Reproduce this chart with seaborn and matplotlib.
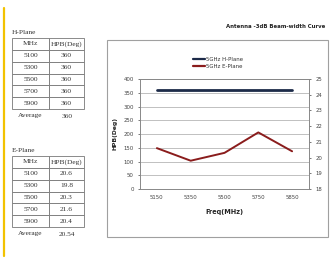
import matplotlib
matplotlib.use("Agg")
import matplotlib.pyplot as plt
import seaborn as sns
import pandas as pd
from matplotlib.patches import Rectangle
from matplotlib.lines import Line2D

sns.set_style("white")
plt.rcParams["font.family"] = ["DejaVu Sans"]

# chart data
freqs = ["5150", "5350", "5500", "5750", "5850"]
h_plane = [360, 360, 360, 360, 360]
e_plane = [20.6, 19.8, 20.3, 21.6, 20.4]

# table data
tbl_mhz = ["5100", "5300", "5500", "5700", "5900"]
tbl_h = ["360", "360", "360", "360", "360"]
tbl_e = ["20.6", "19.8", "20.3", "21.6", "20.4"]
h_avg = "360"
e_avg = "20.54"

W, H = 331, 259
fig = plt.figure(figsize=(W / 100, H / 100), dpi=100)
fig.patch.set_facecolor("white")


def fx(x):
    return x / W


def fy(y):
    return 1 - y / H


# yellow margin line
fig.add_artist(Line2D([fx(4), fx(4)], [fy(8), fy(256)], color="#f2c200", lw=1.6))

# chart frame
fig.add_artist(Rectangle((fx(107), fy(237)), fx(328) - fx(107), fy(40) - fy(237),
                         fill=False, edgecolor="#a0a0a0", lw=0.8))
fig.text(fx(325), fy(27), "Antenna -3dB Beam-width Curve", ha="right", va="center",
         fontsize=3.9, fontweight="bold", color="#222222")

df = pd.DataFrame({"freq": freqs, "h": h_plane, "e": e_plane})

ax = fig.add_axes([fx(140), fy(189), fx(309) - fx(140), fy(79) - fy(189)])
sns.lineplot(data=df, x="freq", y="h", ax=ax, color="#1c2a48", lw=2.0,
             label="5GHz H-Plane", legend=False)
ax.set_ylim(0, 400)
ax.set_yticks(range(0, 401, 50))
ax.set_xlim(-0.5, 4.5)
ax.grid(axis="y", color="#b5b5b5", lw=0.6)
ax.set_axisbelow(True)
ax.set_xlabel("Freq(MHz)", fontsize=4.7, fontweight="bold", labelpad=6)
ax.set_ylabel("HPB(Deg)", fontsize=4.4, fontweight="bold", labelpad=4)

ax2 = ax.twinx()
sns.lineplot(data=df, x="freq", y="e", ax=ax2, color="#8a1c1c", lw=1.4,
             label="5GHz E-Plane", legend=False)
ax2.set_ylim(18, 25)
ax2.set_yticks(range(18, 26))
ax2.set_ylabel("")

for a in (ax, ax2):
    a.tick_params(labelsize=3.9, length=1.5, width=0.5, pad=3, colors="#444444")
    for s in a.spines.values():
        s.set_color("#888888")
        s.set_linewidth(0.6)

fig.legend(handles=[Line2D([], [], color="#1c2a48", lw=1.6),
                    Line2D([], [], color="#8a1c1c", lw=1.6)],
           labels=["5GHz H-Plane", "5GHz E-Plane"],
           loc="center", bbox_to_anchor=(fx(218), fy(63)), frameon=False,
           fontsize=3.9, handlelength=2.2, handletextpad=0.1, labelspacing=0.45,
           labelcolor="#333333")


# tables on the left
def draw_table(top, bottom, title, vals, avg):
    fig.text(fx(12), fy(top - 5), title, fontsize=5.3, family="Liberation Serif",
             ha="left", va="center", color="#333333")
    tax = fig.add_axes([fx(12), fy(bottom), fx(84) - fx(12), fy(top) - fy(bottom)])
    tax.axis("off")
    rows = [["MHz", "HPB(Deg)"]] + [[m, v] for m, v in zip(tbl_mhz, vals)]
    t = tax.table(cellText=rows, bbox=[0, 0, 1, 1], cellLoc="center",
                  colWidths=[37, 35])
    t.auto_set_font_size(False)
    for cell in t.get_celld().values():
        cell.set_fontsize(5.3)
        cell.set_edgecolor("#777777")
        cell.set_linewidth(0.6)
        cell.get_text().set_family("Liberation Serif")
        cell.get_text().set_color("#333333")
    fig.text(fx(30), fy(bottom + 7), "Average", fontsize=5.3, family="Liberation Serif",
             ha="center", va="center", color="#333333")
    fig.text(fx(67), fy(bottom + 7), avg, fontsize=5.3, family="Liberation Serif",
             ha="center", va="center", color="#333333")


draw_table(38, 109, "H-Plane", tbl_h, h_avg)
draw_table(156, 227, "E-Plane", tbl_e, e_avg)

fig.savefig("out.png", dpi=100, facecolor="white")
